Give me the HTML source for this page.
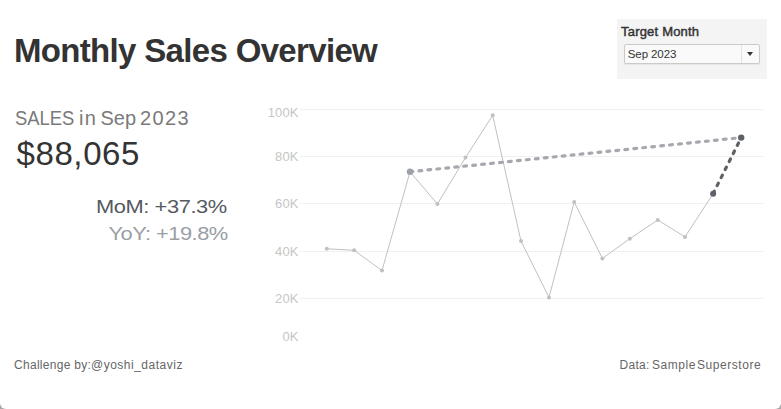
<!DOCTYPE html>
<html><head><meta charset="utf-8">
<style>
html,body{margin:0;padding:0;}
body{width:781px;height:409px;overflow:hidden;background:#fff;position:relative;font-family:"Liberation Sans",sans-serif;}
.t{position:absolute;white-space:nowrap;line-height:1;}
#title{left:14px;top:34px;font-size:33px;font-weight:bold;color:#333;letter-spacing:-0.67px;}
.sl{top:108px;font-size:20px;color:#7a7a7a;transform-origin:left center;}
#amt{left:16.5px;top:137px;font-size:33px;color:#333;letter-spacing:0.6px;}
#mom{right:553.8px;top:196.5px;font-size:19px;color:#555960;letter-spacing:-0.35px;transform:scaleX(1.15);transform-origin:right center;}
#yoy{right:553.8px;top:223.5px;font-size:19px;color:#9a9ea5;letter-spacing:-0.45px;transform:scaleX(1.15);transform-origin:right center;}
#panel{position:absolute;left:617px;top:19px;width:150px;height:60px;background:#f4f4f4;}
#tm{left:621px;top:24.9px;font-size:13px;color:#333;-webkit-text-stroke:0.45px #333;letter-spacing:0.2px;}
#dd{position:absolute;left:624px;top:44px;width:134px;height:18px;background:#fafafa;border:1px solid #cacaca;border-radius:2px;box-shadow:0 1px 1px rgba(0,0,0,0.06);}
#ddv{left:627.8px;top:48.5px;font-size:11.5px;color:#333;letter-spacing:-0.1px;}
#dddiv{position:absolute;left:741px;top:45px;width:1px;height:18px;background:#e2e2e2;}
#arr{position:absolute;left:747px;top:52px;width:0;height:0;border-left:3.6px solid transparent;border-right:3.6px solid transparent;border-top:4.4px solid #333;}
#chart{position:absolute;left:0;top:0;}
#bg{position:absolute;left:0;top:0;width:781px;height:409px;background:#a8a8a8;}
#card{position:absolute;left:0;top:0;width:781px;height:409px;background:#fff;border-radius:0 0 6px 6px;}
.ax{font-size:13px;color:#c6c6c6;text-align:right;width:60px;left:238.6px;letter-spacing:0.15px;}
.ft{top:359px;font-size:12px;color:#666;}
</style></head><body>
<div id="bg"></div><div id="card"></div>
<div id="title" class="t">Monthly Sales Overview</div>
<div class="t sl" style="left:15px;transform:scaleX(0.92)">SALES</div><div class="t sl" style="left:79px;letter-spacing:1.2px">in</div><div class="t sl" style="left:100.5px">Sep</div><div class="t sl" style="left:140px;letter-spacing:1.35px">2023</div>
<div id="amt" class="t">$88,065</div>
<div id="mom" class="t">MoM: +37.3%</div>
<div id="yoy" class="t">YoY: +19.8%</div>
<div id="panel"></div>
<div id="tm" class="t">Target Month</div>
<div id="dd"></div>
<div id="ddv" class="t">Sep 2023</div>
<div id="dddiv"></div><div id="arr"></div>
<div class="t ax" style="top:106px">100K</div>
<div class="t ax" style="top:150px">80K</div>
<div class="t ax" style="top:197px">60K</div>
<div class="t ax" style="top:245px">40K</div>
<div class="t ax" style="top:292px">20K</div>
<div class="t ax" style="top:330px">0K</div>
<svg id="chart" width="781" height="409">
<g stroke="#f0f0f0" stroke-width="1">
<line x1="300" y1="109.5" x2="763" y2="109.5"/>
<line x1="300" y1="156.5" x2="763" y2="156.5"/>
<line x1="300" y1="203.5" x2="763" y2="203.5"/>
<line x1="300" y1="251.5" x2="763" y2="251.5"/>
<line x1="300" y1="298.5" x2="763" y2="298.5"/>
</g>
<polyline fill="none" stroke="#c0c0c0" stroke-width="1" points="326.8,248.8 354.2,250.3 382,270.6 410,171.8 437.4,204 465.5,157.6 492.7,115.3 521,241.1 549,297.4 574.2,202.1 602.4,258.4 629.8,238.7 657.8,220 685,236.9 713.1,193.7"/>
<g fill="#c0c0c0">
<circle cx="326.8" cy="248.8" r="2"/><circle cx="354.2" cy="250.3" r="2"/><circle cx="382" cy="270.6" r="2"/>
<circle cx="437.4" cy="204" r="2"/><circle cx="465.5" cy="157.6" r="2"/><circle cx="492.7" cy="115.3" r="2"/>
<circle cx="521" cy="241.1" r="2"/><circle cx="549" cy="297.4" r="2"/><circle cx="574.2" cy="202.1" r="2"/>
<circle cx="602.4" cy="258.4" r="2"/><circle cx="629.8" cy="238.7" r="2"/><circle cx="657.8" cy="220" r="2"/>
<circle cx="685" cy="236.9" r="2"/>
</g>
<line x1="410" y1="171.8" x2="741.2" y2="137.6" stroke="#a6a8ae" stroke-width="3.2" stroke-dasharray="2.8 6.2" stroke-linecap="round"/>
<circle cx="410" cy="171.8" r="3.2" fill="#9fa1a8"/>
<line x1="713.1" y1="193.7" x2="741.2" y2="137.6" stroke="#5e6168" stroke-width="3.2" stroke-dasharray="2.8 6.2" stroke-linecap="round"/>
<circle cx="713.1" cy="193.7" r="3" fill="#5e6168"/>
<circle cx="741.2" cy="137.6" r="3.2" fill="#5e6168"/>
</svg>
<div class="t ft" style="left:14px;letter-spacing:0.29px">Challenge by:</div><div class="t ft" style="left:91px;letter-spacing:0.5px">@yoshi_dataviz</div>
<div class="t ft" style="left:619.5px;letter-spacing:0.3px">Data:</div><div class="t ft" style="left:652px;letter-spacing:0.55px">Sample</div><div class="t ft" style="left:697px;letter-spacing:0.55px">Superstore</div>
</body></html>
